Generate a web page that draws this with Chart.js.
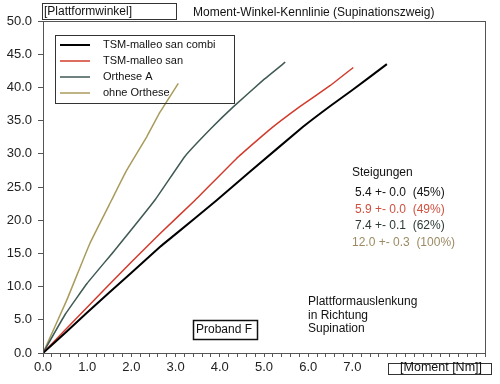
<!DOCTYPE html>
<html>
<head>
<meta charset="utf-8">
<script src="https://cdn.jsdelivr.net/npm/chart.js@4"></script>
<style>
  html, body { margin: 0; padding: 0; background: #fff; }
  #wrap { width: 500px; height: 384px; }
</style>
</head>
<body>
<div id="wrap"><canvas id="momentChart" width="500" height="384"></canvas></div>
<script>
// series names and colours
var seriesNames = ['TSM-malleo san combi', 'TSM-malleo san', 'Orthese A', 'ohne Orthese'];
var seriesColors = ['#000000', '#d23b2c', '#3f5954', '#a99b5c'];

// moment [Nm] / angle [deg]
var combiX = [0, 0.5, 1.0, 2.0, 2.65, 3.0, 3.93, 4.68, 5.89, 6.5, 7.0, 7.78];
var combiY = [0, 3.0, 6.1, 12.1, 16.0, 17.9, 23.0, 27.3, 34.1, 37.2, 39.6, 43.5];
var sanX = [0, 1.0, 2.0, 2.65, 3.44, 4.38, 5.1, 5.81, 6.5, 7.02];
var sanY = [0, 6.9, 13.7, 18.0, 23.0, 29.3, 33.5, 37.1, 40.3, 43.0];
var orthX = [0, 0.5, 1.0, 1.6, 2.55, 3.21, 3.8, 4.31, 5.0, 5.48];
var orthY = [0, 5.8, 10.5, 15.3, 23.2, 29.6, 33.8, 37.1, 41.2, 43.8];
var ohneX = [0, 0.54, 1.06, 1.55, 1.9, 2.35, 2.65, 3.06];
var ohneY = [0, 8.0, 16.5, 23.0, 27.6, 32.6, 36.3, 40.6];

// slopes box
var slopeTexts = ['5.4 +- 0.0  (45%)', '5.9 +- 0.0  (49%)', '7.4 +- 0.1  (62%)', '12.0 +- 0.3  (100%)'];
var slopeColors = ['#111111', '#d2503f', '#2c3a38', '#9c8a62'];

var FONT = '"Liberation Sans", Arial, sans-serif';

function pts(xs, ys) {
  return xs.map(function (x, i) { return { x: x, y: ys[i] }; });
}

var allX = [combiX, sanX, orthX, ohneX];
var allY = [combiY, sanY, orthY, ohneY];

var datasets = seriesNames.map(function (name, i) {
  return {
    label: name,
    data: pts(allX[i], allY[i]),
    showLine: true,
    borderColor: seriesColors[i],
    borderWidth: i === 0 ? 2 : 1.5,
    pointRadius: 0,
    tension: 0.1,
    fill: false
  };
});

var decorations = {
  id: 'decorations',
  afterDraw: function (chart) {
    var c = chart.ctx, a = chart.chartArea;
    c.save();
    // frame
    c.strokeStyle = '#555';
    c.lineWidth = 1;
    c.strokeRect(a.left + 0.5, a.top + 0.5, a.right - a.left, a.bottom - a.top);

    // title and axis name boxes
    c.font = '12px ' + FONT;
    c.fillStyle = '#111';
    c.textBaseline = 'middle';
    c.textAlign = 'left';
    c.fillText('Moment-Winkel-Kennlinie (Supinationszweig)', 193, 13);

    c.strokeStyle = '#333';
    c.strokeRect(42.5, 3.5, 134, 16);
    c.fillText('[Plattformwinkel]', 44, 12);

    c.strokeRect(388.5, 363.5, 103, 11);
    c.textAlign = 'right';
    c.font = '12.5px ' + FONT;
    c.fillText('[Moment [Nm]]', 482, 368);

    // legend
    c.strokeRect(55.5, 35.5, 179, 68);
    c.textAlign = 'left';
    c.font = '11px ' + FONT;
    chart.data.datasets.forEach(function (ds, i) {
      var y = 45 + i * 16;
      c.strokeStyle = ds.borderColor;
      c.lineWidth = i === 0 ? 2 : 1.5;
      c.beginPath();
      c.moveTo(60, y);
      c.lineTo(90, y);
      c.stroke();
      c.fillStyle = '#111';
      c.fillText(ds.label, 103, y);
    });

    // slopes
    c.font = '12px ' + FONT;
    c.fillStyle = '#111';
    c.fillText('Steigungen', 352, 173);
    slopeTexts.forEach(function (t, i) {
      c.fillStyle = slopeColors[i];
      c.fillText(t, i === 3 ? 352 : 355, 193 + i * 16.5);
    });

    // notes
    c.fillStyle = '#111';
    c.fillText('Plattformauslenkung', 308, 302);
    c.fillText('in Richtung', 308, 316);
    c.fillText('Supination', 308, 329);

    c.strokeStyle = '#111';
    c.lineWidth = 1.5;
    c.strokeRect(193.5, 320.5, 64, 19);
    c.fillText('Proband F', 196, 330);
    c.restore();
  }
};

var ctx = document.getElementById('momentChart').getContext('2d');
var momentChart = new Chart(ctx, {
  type: 'scatter',
  data: { datasets: datasets },
  options: {
    responsive: false,
    animation: false,
    layout: { padding: { top: 21, right: 15, left: 0, bottom: 0 } },
    plugins: {
      legend: { display: false },
      tooltip: { enabled: false }
    },
    scales: {
      x: {
        type: 'linear',
        min: 0,
        max: 10,
        afterFit: function (s) { s.height = 31; },
        border: { color: '#555', width: 1 },
        grid: { drawOnChartArea: false, tickLength: 4, color: '#555' },
        ticks: {
          stepSize: 0.2,
          autoSkip: false,
          maxRotation: 0,
          padding: 3,
          color: '#222',
          font: { family: FONT, size: 13 },
          callback: function (v) {
            var r = Math.round(v);
            return (Math.abs(v - r) < 1e-6 && r <= 7) ? r.toFixed(1) : '';
          }
        }
      },
      y: {
        type: 'linear',
        min: 0,
        max: 50,
        afterFit: function (s) { s.width = 43; },
        border: { color: '#555', width: 1 },
        grid: { drawOnChartArea: false, tickLength: 5, color: '#555' },
        ticks: {
          stepSize: 5,
          padding: 6,
          color: '#222',
          font: { family: FONT, size: 13 },
          callback: function (v) { return v.toFixed(1); }
        }
      }
    }
  },
  plugins: [decorations]
});
</script>
</body>
</html>
